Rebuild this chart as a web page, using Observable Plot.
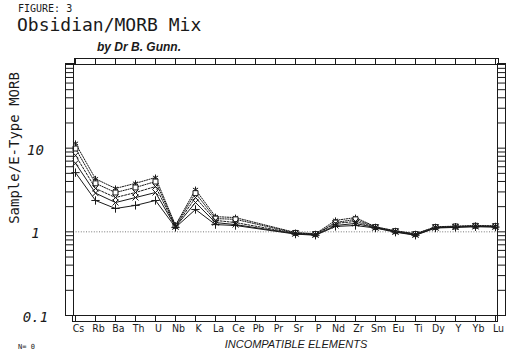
<!DOCTYPE html>
<html><head><meta charset="utf-8">
<script src="https://cdn.jsdelivr.net/npm/d3@7"></script>
<script src="https://cdn.jsdelivr.net/npm/@observablehq/plot@0.6"></script>
<style>
body{margin:0;background:#fff;}
#wrap{position:relative;width:511px;height:353px;overflow:hidden;background:#fff;}
#wrap svg{position:absolute;left:0;top:0;}
.t{position:absolute;white-space:nowrap;color:#1a1a1a;line-height:1;}
</style></head><body><div id="wrap">
<div class="t" style="left:18px;top:3.5px;font-size:10px;font-family:'DejaVu Sans Mono'">FIGURE: 3</div>
<div class="t" style="left:17px;top:15.5px;font-size:18px;font-family:'DejaVu Sans Mono'">Obsidian/MORB Mix</div>
<div class="t" style="left:97px;top:41px;font-size:12px;font-family:'Liberation Sans';font-style:italic;font-weight:bold">by Dr B. Gunn.</div>
<div class="t" style="left:14px;top:148px;font-size:14px;font-family:'DejaVu Sans Mono';transform:translate(-50%,-50%) rotate(-90deg)">Sample/E-Type MORB</div>
<div class="t" style="left:296px;top:338.5px;font-size:11px;font-family:'Liberation Sans';font-style:italic;transform:translateX(-50%)">INCOMPATIBLE ELEMENTS</div>
<div class="t" style="left:18px;top:344px;font-size:7px;font-family:'DejaVu Sans Mono'">N= 0</div>
</div>
<script>
const elements = ["Cs","Rb","Ba","Th","U","Nb","K","La","Ce","Pb","Pr","Sr","P","Nd","Zr","Sm","Eu","Ti","Dy","Y","Yb","Lu"];
const series1 = [11.4,4.3,3.3,3.8,4.46,1.2,3.2,1.52,1.48,null,null,0.98,0.95,1.37,1.48,1.15,1.03,0.95,1.15,1.17,1.19,1.18];
const series2 = [9.9,3.8,2.95,3.39,3.99,1.18,2.9,1.44,1.41,null,null,0.97,0.94,1.29,1.41,1.14,1.02,0.94,1.14,1.16,1.18,1.17];
const series3 = [8.2,3.3,2.57,2.95,3.48,1.16,2.57,1.37,1.29,null,null,0.96,0.93,1.26,1.33,1.13,1.01,0.93,1.13,1.15,1.17,1.16];
const series4 = [6.6,2.9,2.24,2.57,2.95,1.15,2.24,1.29,1.22,null,null,0.95,0.92,1.19,1.26,1.12,1.0,0.92,1.12,1.14,1.16,1.15];
const series5 = [5.1,2.37,1.9,2.07,2.37,1.13,1.85,1.22,1.19,null,null,0.94,0.91,1.16,1.19,1.11,0.99,0.91,1.11,1.13,1.15,1.14];
const yTicks = [0.1,0.2,0.3,0.4,0.5,0.6,0.7,0.8,0.9,1,2,3,4,5,6,7,8,9,10,20,30,40,50,60,70,80,90,100];
const yLabels = [0.1, 1, 10];

const allSeries = [series1, series2, series3, series4, series5];
const styles = [
  {dash:"1.2,1.3", symbol:"asterisk"},
  {dash:"1.2,1.3", symbol:"square"},
  {dash:"2,1.5", symbol:"times"},
  {dash:null, symbol:"times"},
  {dash:null, symbol:"plus"}
];
const ink = "#1a1a1a";
const marks = [];
marks.push(Plot.ruleY([1], {stroke:"#777", strokeDasharray:"1,1.6", strokeWidth:1}));
allSeries.forEach((vals, k) => {
  const rows = elements.map((el, i) => ({el, v: vals[i]})).filter(d => d.v != null);
  const st = styles[k];
  marks.push(Plot.line(rows, {x:"el", y:"v", stroke:ink, strokeWidth:1, strokeDasharray: st.dash || undefined}));
  marks.push(Plot.dot(rows, {x:"el", y:"v", symbol: st.symbol, r:2.8, stroke:ink, strokeWidth:1, fill: st.symbol==="square" ? "white" : "none"}));
});
// frame and bands
marks.push(Plot.frame({stroke:ink, strokeWidth:1}));
marks.push(Plot.frame({stroke:ink, strokeWidth:1, insetTop:-6, insetBottom:251, insetLeft:1, insetRight:-1}));
marks.push(Plot.frame({stroke:ink, strokeWidth:1, insetBottom:-6, insetTop:251, insetLeft:-1}));
marks.push(Plot.frame({stroke:ink, strokeWidth:1, insetLeft:-8, insetRight:424, insetTop:-1}));
marks.push(Plot.frame({stroke:ink, strokeWidth:1, insetRight:-8, insetLeft:424, insetTop:-1}));
// band ticks
marks.push(Plot.axisY(yTicks, {anchor:"left", tickSize:8, tickFormat:() => "", label:null, stroke:ink}));
marks.push(Plot.axisY(yTicks, {anchor:"right", tickSize:8, tickFormat:() => "", label:null, stroke:ink}));
marks.push(Plot.axisX({anchor:"top", tickSize:6, tickFormat:() => "", label:null, stroke:ink}));
marks.push(Plot.axisX({anchor:"bottom", tickSize:6, tickFormat:() => "", label:null, stroke:ink}));
marks.push(Plot.axisX({anchor:"bottom", tickSize:0, tickPadding:9, dx:3, label:null, fontSize:10.5, fontFamily:"'Liberation Sans Narrow','DejaVu Sans Condensed',sans-serif", fill:ink}));
marks.push(Plot.text(yLabels, {y:d => d, text:d => String(d), frameAnchor:"left", dx:-38, dy:2, textAnchor:"middle", fontSize:14, fontStyle:"italic", fontFamily:"DejaVu Sans Mono", fill:ink}));

const chart = Plot.plot({
  width:511, height:353,
  marginLeft:73, marginRight:14, marginTop:64, marginBottom:38,
  style:{background:"transparent", fontFamily:"'Liberation Sans',sans-serif"},
  x:{type:"point", domain:elements, padding:0},
  y:{type:"log", domain:[0.1,100]},
  marks
});
document.getElementById("wrap").prepend(chart);
</script>
</body></html>
